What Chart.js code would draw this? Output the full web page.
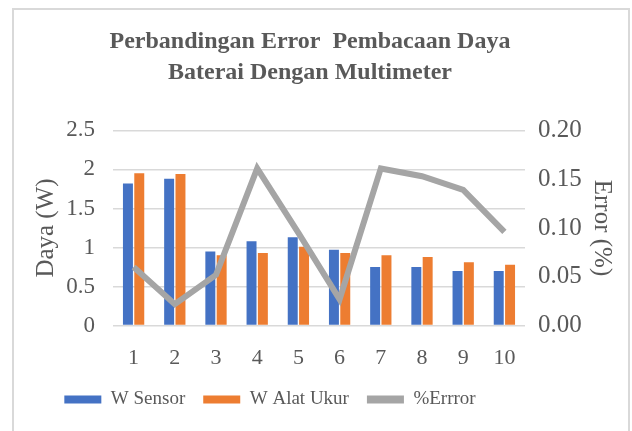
<!DOCTYPE html>
<html>
<head>
<meta charset="utf-8">
<script src="https://cdn.jsdelivr.net/npm/chart.js@4.4.1/dist/chart.umd.min.js"></script>
<style>
  html, body { margin: 0; padding: 0; background: #fff; }
  .frame {
    position: absolute; left: 12px; top: 8px; width: 618px; height: 440px;
    border: 2px solid #d9d9d9; box-sizing: border-box;
  }
  .wrap { position: absolute; left: 0; top: 0; width: 632px; height: 431px; }
</style>
</head>
<body>
<div class="frame"></div>
<div class="wrap"><canvas id="myChart" width="632" height="431"></canvas></div>
<script>
const labels = ['1', '2', '3', '4', '5', '6', '7', '8', '9', '10'];
const wSensor = [1.82, 1.88, 0.95, 1.08, 1.13, 0.97, 0.75, 0.75, 0.70, 0.70];
const wAlatUkur = [1.95, 1.94, 0.90, 0.93, 1.01, 0.93, 0.90, 0.88, 0.81, 0.78];
const errorPct = [0.060, 0.022, 0.052, 0.161, 0.095, 0.027, 0.161, 0.153, 0.139, 0.096];

const serif = '"Liberation Serif", "Times New Roman", serif';
const textColor = '#595959';

// geser legenda ke kiri dan ke atas seperti di gambar asli
const legendShift = {
    id: 'legendShift',
    afterLayout: (chart) => {
        chart.legend.left -= 40;
        chart.legend.right -= 40;
        chart.legend.top -= 10;
        chart.legend.bottom -= 10;
    }
};

const ctx = document.getElementById('myChart').getContext('2d');

const myChart = new Chart(ctx, {
    type: 'bar',
    data: {
        labels: labels,
        datasets: [{
            label: 'W Sensor',
            data: wSensor,
            backgroundColor: '#4472C4',
            yAxisID: 'y',
            order: 1,
            categoryPercentage: 0.55,
            barPercentage: 0.88
        }, {
            label: 'W Alat Ukur',
            data: wAlatUkur,
            backgroundColor: '#ED7D31',
            yAxisID: 'y',
            order: 1,
            categoryPercentage: 0.55,
            barPercentage: 0.88
        }, {
            type: 'line',
            label: '%Errror',
            data: errorPct,
            borderColor: '#A5A5A5',
            backgroundColor: '#A5A5A5',
            borderWidth: 6,
            pointRadius: 0,
            tension: 0,
            yAxisID: 'y1',
            order: 0
        }]
    },
    plugins: [legendShift],
    options: {
        responsive: false,
        animation: false,
        layout: { padding: { left: 3, right: 15, top: 12, bottom: 2 } },
        plugins: {
            tooltip: { enabled: false },
            title: {
                display: true,
                text: ['Perbandingan Error  Pembacaan Daya', 'Baterai Dengan Multimeter'],
                color: textColor,
                font: { family: serif, size: 24, weight: 'bold', lineHeight: 1.3 },
                padding: { top: 14, bottom: 42 }
            },
            legend: {
                position: 'bottom',
                labels: {
                    color: textColor,
                    font: { family: serif, size: 19 },
                    boxWidth: 37,
                    boxHeight: 8,
                    padding: 18,
                    sort: (a, b) => a.datasetIndex - b.datasetIndex,
                    generateLabels: (chart) => {
                        const items = Chart.defaults.plugins.legend.labels.generateLabels(chart);
                        items.forEach(it => { it.lineWidth = 0; });
                        return items;
                    }
                }
            }
        },
        scales: {
            x: {
                grid: { display: false },
                border: { display: false },
                ticks: { color: textColor, font: { family: serif, size: 22 }, padding: 11 }
            },
            y: {
                position: 'left',
                min: 0,
                max: 2.5,
                ticks: {
                    stepSize: 0.5,
                    color: textColor,
                    font: { family: serif, size: 23 },
                    padding: 18,
                    callback: (v) => String(+v.toFixed(1))
                },
                grid: { color: '#d9d9d9', lineWidth: 1.5, drawTicks: false },
                border: { display: false },
                title: {
                    display: true,
                    text: 'Daya (W)',
                    color: textColor,
                    font: { family: serif, size: 25 },
                    padding: { top: 28, bottom: 0 }
                },
                afterFit: (scale) => { scale.width = 110; }
            },
            y1: {
                position: 'right',
                min: 0,
                max: 0.2,
                ticks: {
                    stepSize: 0.05,
                    color: textColor,
                    font: { family: serif, size: 25 },
                    padding: 13,
                    callback: (v) => v.toFixed(2)
                },
                grid: { display: false, drawTicks: false },
                border: { display: false },
                title: {
                    display: true,
                    text: 'Error (%)',
                    color: textColor,
                    font: { family: serif, size: 25 },
                    padding: { top: 0, bottom: 0 }
                },
                afterFit: (scale) => { scale.width = 92; }
            }
        }
    }
});
</script>
</body>
</html>
